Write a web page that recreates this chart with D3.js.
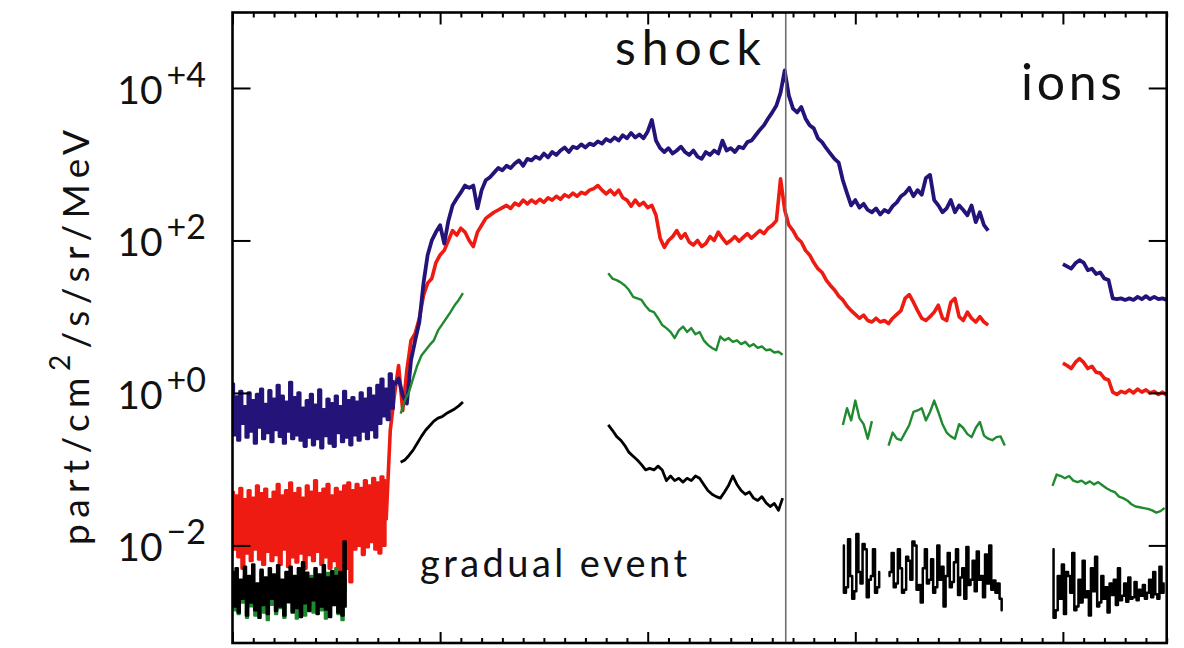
<!DOCTYPE html>
<html>
<head>
<meta charset="utf-8">
<script src="https://cdn.jsdelivr.net/npm/d3@7"></script>
<style>
  html, body { margin: 0; padding: 0; background: #fff; }
  svg { display: block; }
</style>
</head>
<body>
<svg id="chart" width="1184" height="648"></svg>
<script>
// Particle intensity time profiles (four ion channels) through a gradual SEP event.
// Time is in days from the start of the window; intensities are stored as log10
// of part/cm^2/s/sr/MeV, sampled at a fixed cadence from each segment start.

const dayRange = [0, 4.5];
const logRange = [-3.28, 4.99];
const shockDay = 2.665;

const fine = 0.01;    // cadence of the noisy background segments (days)
const coarse = 0.02;  // cadence of the event segments (days)

// ---- highest-intensity channel (blue) ----
const blueQuietStart = 0.00;
const blueQuiet = [
  0.12, -0.55, -0.05, -0.62, 0.02, -0.40, -0.18, -0.58, 0.00, -0.50,
  -0.10, -0.66, -0.02, -0.45, 0.05, -0.60, -0.15, -0.52, 0.03, -0.64,
  -0.08, -0.48, 0.10, -0.57, -0.04, -0.66, -0.12, -0.50, 0.14, -0.60,
  -0.06, -0.55, 0.00, -0.62, -0.20, -0.70, -0.10, -0.58, -0.02, -0.68,
  -0.16, -0.60, 0.04, -0.72, -0.22, -0.56, -0.08, -0.66, -0.14, -0.70,
  -0.04, -0.52, -0.18, -0.64, 0.02, -0.58, -0.10, -0.68, -0.06, -0.55,
  -0.12, -0.62, 0.00, -0.50, -0.08, -0.60, 0.06, -0.48, -0.04, -0.58,
  0.10, -0.40, 0.18, -0.30, 0.05, -0.35, 0.25, -0.20, 0.15
];
const blueEventStart = 0.78;
const blueEvent = [
  0.10, 0.19, -0.03, -0.14, 0.43, 0.69, 0.93, 1.44, 1.81, 2.00,
  2.11, 2.20, 1.96, 2.26, 2.46, 2.55, 2.63, 2.72, 2.69, 2.72,
  2.42, 2.66, 2.79, 2.83, 2.89, 2.95, 2.92, 2.98, 2.95, 3.01,
  3.05, 2.98, 3.07, 3.05, 3.10, 3.07, 3.14, 3.09, 3.16, 3.12,
  3.18, 3.22, 3.16, 3.23, 3.21, 3.26, 3.22, 3.27, 3.25, 3.30,
  3.27, 3.33, 3.30, 3.35, 3.31, 3.38, 3.34, 3.41, 3.35, 3.39,
  3.34, 3.43, 3.58, 3.31, 3.21, 3.16, 3.21, 3.14, 3.18, 3.23,
  3.16, 3.12, 3.18, 3.10, 3.07, 3.16, 3.12, 3.18, 3.14, 3.31,
  3.18, 3.21, 3.16, 3.23, 3.21, 3.29, 3.31, 3.38, 3.45, 3.51,
  3.60, 3.68, 3.77, 3.94, 4.23, 3.90, 3.73, 3.68, 3.75, 3.60,
  3.51, 3.47, 3.34, 3.29, 3.21, 3.14, 3.07, 3.02, 2.79, 2.62,
  2.46, 2.53, 2.43, 2.48, 2.40, 2.37, 2.42, 2.34, 2.40, 2.37,
  2.45, 2.50, 2.58, 2.62, 2.69, 2.58, 2.66, 2.60, 2.82, 2.86,
  2.53, 2.46, 2.37, 2.42, 2.53, 2.37, 2.46, 2.40, 2.33, 2.46,
  2.24, 2.37, 2.20, 2.13
];
const blueLateStart = 4.00;
const blueLate = [
  1.69, 1.66, 1.63, 1.70, 1.74, 1.71, 1.61, 1.63, 1.56, 1.58,
  1.50, 1.48, 1.24, 1.23, 1.24, 1.22, 1.24, 1.22, 1.26, 1.23,
  1.27, 1.23, 1.26, 1.23, 1.24, 1.22
];

// ---- second channel (red) ----
const redQuietStart = 0.00;
const redQuiet = [
  -1.30, -2.05, -1.35, -2.15, -1.25, -2.30, -1.40, -2.10, -1.28, -2.20,
  -1.38, -2.05, -1.22, -2.18, -1.32, -2.25, -1.26, -2.08, -1.40, -2.20,
  -1.30, -2.12, -1.20, -2.25, -1.35, -2.05, -1.28, -2.28, -1.18, -2.15,
  -1.32, -2.22, -1.25, -2.10, -1.38, -2.30, -1.22, -2.12, -1.30, -2.20,
  -1.15, -2.08, -1.32, -2.25, -1.26, -2.15, -1.20, -2.30, -1.35, -2.20,
  -1.25, -2.45, -1.30, -2.38, -1.22, -2.30, -1.18, -2.48, -1.28, -2.05,
  -1.20, -2.00, -1.25, -2.12, -1.15, -2.02, -1.22, -1.95, -1.12, -2.05,
  -1.18, -2.10, -1.10, -2.00, -1.15
];
const redEventStart = 0.74;
const redEvent = [
  -1.67, -0.49, -0.03, 0.36, -0.23, 0.30, 0.69, 0.78, 0.98, 1.28,
  1.44, 1.50, 1.71, 1.81, 1.87, 2.00, 2.13, 2.07, 2.16, 2.11,
  2.00, 1.92, 2.11, 2.20, 2.29, 2.33, 2.37, 2.40, 2.43, 2.46,
  2.42, 2.49, 2.46, 2.53, 2.48, 2.53, 2.49, 2.54, 2.50, 2.56,
  2.53, 2.58, 2.54, 2.60, 2.57, 2.62, 2.58, 2.63, 2.61, 2.66,
  2.68, 2.72, 2.66, 2.61, 2.66, 2.60, 2.66, 2.56, 2.53, 2.45,
  2.53, 2.46, 2.50, 2.43, 2.46, 2.33, 2.03, 1.91, 2.00, 2.05,
  2.13, 2.03, 2.09, 1.98, 1.94, 2.00, 1.92, 1.96, 2.05, 2.00,
  2.11, 2.03, 1.96, 2.00, 2.05, 1.99, 2.04, 2.09, 2.03, 2.08,
  2.13, 2.09, 2.16, 2.20, 2.26, 2.81, 2.40, 2.20, 2.13, 2.03,
  1.98, 1.87, 1.81, 1.71, 1.63, 1.58, 1.48, 1.41, 1.35, 1.27,
  1.22, 1.14, 1.08, 1.03, 0.98, 1.02, 0.95, 0.93, 0.98, 0.93,
  0.95, 0.91, 0.98, 1.03, 1.08, 1.24, 1.29, 1.19, 1.08, 0.98,
  0.95, 1.00, 1.06, 1.15, 0.98, 0.95, 1.19, 1.24, 1.00, 0.95,
  1.06, 0.98, 0.93, 1.00, 0.93, 0.89
];
const redLateStart = 4.00;
const redLate = [
  0.39, 0.36, 0.32, 0.40, 0.45, 0.40, 0.32, 0.35, 0.27, 0.26,
  0.19, 0.17, 0.01, -0.02, 0.02, 0.00, 0.04, 0.00, 0.05, 0.01,
  0.04, 0.00, 0.02, -0.02, 0.01, -0.03
];

// ---- third channel (green) ----
const greenQuietStart = 0.00;
const greenQuiet = [
  -2.60, -2.85, -2.45, -2.90, -2.55, -2.75, -2.40, -2.95, -2.62, -2.80,
  -2.50, -2.92, -2.58, -2.70, -2.35, -2.88, -2.65, -2.98, -2.48, -2.78,
  -2.55, -2.90, -2.42, -2.82, -2.60, -2.95, -2.52, -2.75, -2.38, -2.86,
  -2.58, -2.96, -2.50, -2.80, -2.45, -2.92, -2.62, -2.78, -2.40, -2.88,
  -2.55, -2.70, -2.42, -2.85, -2.50, -2.96, -2.36, -2.80, -2.48, -2.72,
  -2.30, -2.90, -2.40, -2.98, -2.45, -2.60
];
const greenRiseStart = 0.81;
const greenRise = [
  -0.27, -0.10, 0.01, 0.19, 0.36, 0.49, 0.56, 0.63, 0.69, 0.82,
  0.90, 0.98, 1.06, 1.15, 1.22, 1.31
];
const greenDecayStart = 1.81;
const greenDecay = [
  1.57, 1.50, 1.48, 1.45, 1.41, 1.35, 1.26, 1.24, 1.22, 1.14,
  1.08, 1.06, 0.98, 0.89, 0.85, 0.80, 0.72, 0.82, 0.87, 0.80,
  0.85, 0.77, 0.80, 0.69, 0.63, 0.59, 0.56, 0.74, 0.69, 0.72,
  0.67, 0.69, 0.64, 0.67, 0.61, 0.64, 0.59, 0.61, 0.56, 0.57,
  0.53, 0.54, 0.50
];
const greenPost1Start = 2.94;
const greenPost1 = [-0.42, -0.20, -0.36, -0.10, -0.33, -0.41, -0.60, -0.37];
const greenPost2Start = 3.16;
const greenPost2 = [
  -0.69, -0.52, -0.60, -0.62, -0.52, -0.42, -0.25, -0.23, -0.20, -0.36,
  -0.25, -0.10, -0.25, -0.41, -0.52, -0.57, -0.60, -0.41, -0.46, -0.54,
  -0.58, -0.46, -0.38, -0.56, -0.60, -0.62, -0.58, -0.57, -0.69
];
const greenLateStart = 3.95;
const greenLate = [
  -1.22, -1.07, -1.09, -1.12, -1.09, -1.15, -1.17, -1.15, -1.19, -1.16,
  -1.20, -1.17, -1.21, -1.25, -1.28, -1.30, -1.36, -1.38, -1.41, -1.46,
  -1.49, -1.50, -1.51, -1.52, -1.54, -1.57, -1.55, -1.51
];

// ---- lowest channel (black) ----
const blackQuietStart = 0.00;
const blackQuiet = [
  -2.35, -2.80, -2.30, -2.88, -2.45, -2.70, -2.28, -2.92, -2.40, -2.75,
  -2.25, -2.85, -2.50, -2.95, -2.32, -2.78, -2.42, -2.90, -2.30, -2.70,
  -2.38, -2.86, -2.26, -2.80, -2.45, -2.92, -2.35, -2.74, -2.28, -2.88,
  -2.40, -2.82, -2.30, -2.94, -2.22, -2.76, -2.36, -2.86, -2.44, -2.72,
  -2.30, -2.90, -2.38, -2.80, -2.26, -2.84, -2.42, -2.94, -2.34, -2.78,
  -2.40, -2.88, -2.35, -2.92, -1.95, -2.80
];
const blackRiseStart = 0.81;
const blackRise = [
  -0.91, -0.88, -0.82, -0.75, -0.66, -0.57, -0.49, -0.43, -0.37, -0.33,
  -0.31, -0.27, -0.24, -0.21, -0.17, -0.12
];
const blackDecayStart = 1.81;
const blackDecay = [
  -0.42, -0.49, -0.57, -0.62, -0.69, -0.78, -0.83, -0.88, -0.94, -1.01,
  -0.99, -1.01, -0.96, -1.01, -1.15, -1.09, -1.15, -1.12, -1.17, -1.12,
  -1.15, -1.09, -1.12, -1.20, -1.28, -1.33, -1.36, -1.38, -1.30, -1.21,
  -1.09, -1.20, -1.28, -1.33, -1.30, -1.38, -1.41, -1.36, -1.44, -1.49,
  -1.45, -1.54, -1.38
];
const blackPost1Start = 2.94;
const blackPost1 = [
  -2.00, -2.62, -2.55, -1.92, -2.40, -2.70, -2.60, -1.85, -2.35, -2.50,
  -1.98, -2.05, -2.68, -2.45, -2.40, -2.05, -2.62, -2.55, -2.35
];
const blackPost2Start = 3.16;
const blackPost2 = [
  -2.40, -2.35, -2.10, -2.55, -2.50, -2.05, -2.30, -2.62, -2.58, -2.15,
  -2.20, -2.45, -1.95, -2.00, -2.58, -2.52, -2.75, -2.30, -2.05, -2.50,
  -2.45, -2.18, -2.62, -2.55, -2.00, -2.45, -2.28, -2.80, -2.40, -2.10,
  -2.55, -2.48, -2.22, -2.05, -2.65, -2.42, -2.30, -2.70, -2.02, -2.52,
  -2.45, -2.20, -2.60, -2.08, -2.45, -2.40, -2.68, -2.12, -2.50, -2.00,
  -2.58, -2.46, -2.62, -2.50, -2.70, -2.85
];
const blackLateStart = 3.95;
const blackLate = [
  -2.05, -2.95, -2.85, -2.40, -2.70, -2.25, -2.90, -2.35, -2.40, -2.62,
  -2.10, -2.85, -2.80, -2.45, -2.75, -2.20, -2.68, -2.60, -2.92, -2.30,
  -2.60, -2.15, -2.80, -2.75, -2.40, -2.70, -2.55, -2.88, -2.50, -2.65,
  -2.45, -2.78, -2.30, -2.72, -2.66, -2.50, -2.74, -2.42, -2.70, -2.68,
  -2.48, -2.72, -2.58, -2.66, -2.52, -2.70, -2.62, -2.45, -2.68, -2.35,
  -2.64, -2.70, -2.28, -2.62, -2.50
];

// Axis ticks
const majorDays = [0, 1, 2, 3, 4];
const minorDays = d3.range(0, 4.5001, 0.1);
const yTickExps = [4, 2, 0, -2];
const yTickLabels = ["+4", "+2", "+0", "\u22122"];

// ---- drawing ----
const fontFamily = "Lato, 'Open Sans', 'DejaVu Sans', sans-serif";
const channelStyle = {
  red:   { color: "#ee1b12", width: 3.6 },
  blue:  { color: "#241479", width: 3.8 },
  green: { color: "#1f8a2f", width: 2.4 },
  black: { color: "#000000", width: 2.8 }
};
const noiseWidth = { red: 3.2, blue: 3.2, green: 2.4, black: 2.5 };

// draw order: red under blue; green background noise under black noise
const segments = [
  ["red", redQuietStart, fine, redQuiet],
  ["red", redEventStart, coarse, redEvent],
  ["red", redLateStart, coarse, redLate],
  ["blue", blueQuietStart, fine, blueQuiet],
  ["blue", blueEventStart, coarse, blueEvent],
  ["blue", blueLateStart, coarse, blueLate],
  ["green", greenQuietStart, fine, greenQuiet],
  ["black", blackQuietStart, fine, blackQuiet],
  ["green", greenRiseStart, coarse, greenRise],
  ["green", greenDecayStart, coarse, greenDecay],
  ["green", greenPost1Start, coarse, greenPost1],
  ["green", greenPost2Start, coarse, greenPost2],
  ["green", greenLateStart, coarse, greenLate],
  ["black", blackRiseStart, coarse, blackRise],
  ["black", blackDecayStart, coarse, blackDecay],
  ["black", blackPost1Start, fine, blackPost1],
  ["black", blackPost2Start, fine, blackPost2],
  ["black", blackLateStart, fine, blackLate]
];

const plot = { left: 232.5, right: 1166.7, top: 12.5, bottom: 643 };

const x = d3.scaleLinear().domain(dayRange).range([plot.left, plot.right]);
const y = d3.scaleLog()
  .domain([Math.pow(10, logRange[0]), Math.pow(10, logRange[1])])
  .range([plot.bottom, plot.top]);

const svg = d3.select("#chart");

svg.append("defs").append("clipPath").attr("id", "plot-clip")
  .append("rect")
  .attr("x", plot.left).attr("y", plot.top)
  .attr("width", plot.right - plot.left).attr("height", plot.bottom - plot.top);

// noisy background samples are drawn as histogram steps, event samples as a polyline
const stepLine = d3.line().x(d => x(d[0])).y(d => y(d[1])).curve(d3.curveStep);
const polyLine = d3.line().x(d => x(d[0])).y(d => y(d[1])).curve(d3.curveLinear);

const dataLayer = svg.append("g").attr("clip-path", "url(#plot-clip)");

segments.forEach(([channel, start, step, values]) => {
  const pts = values.map((v, i) => [start + i * step, Math.pow(10, v)]);
  const isNoise = step === fine;
  dataLayer.append("path")
    .datum(pts)
    .attr("d", isNoise ? stepLine : polyLine)
    .attr("fill", "none")
    .attr("stroke", channelStyle[channel].color)
    .attr("stroke-width", isNoise ? noiseWidth[channel] : channelStyle[channel].width)
    .attr("stroke-linejoin", "round");
});

// shock passage marker
dataLayer.append("line")
  .attr("x1", x(shockDay)).attr("x2", x(shockDay))
  .attr("y1", plot.top).attr("y2", plot.bottom)
  .attr("stroke", "#6e6e6e").attr("stroke-width", 1.6);

// ---- axes: inward ticks on all four sides ----
function styleAxis(g) {
  g.select(".domain").remove();
  g.selectAll(".tick line").attr("stroke", "#000").attr("stroke-width", 2);
  g.selectAll(".tick text").remove();
}

const minorOnly = minorDays.filter(d => !majorDays.some(m => Math.abs(m - d) < 1e-6));

svg.append("g").attr("transform", `translate(0,${plot.top})`)
  .call(d3.axisBottom(x).tickValues(minorOnly).tickSize(5)).call(styleAxis);
svg.append("g").attr("transform", `translate(0,${plot.top})`)
  .call(d3.axisBottom(x).tickValues(majorDays).tickSize(12)).call(styleAxis);
svg.append("g").attr("transform", `translate(0,${plot.bottom})`)
  .call(d3.axisTop(x).tickValues(minorOnly).tickSize(5)).call(styleAxis);
svg.append("g").attr("transform", `translate(0,${plot.bottom})`)
  .call(d3.axisTop(x).tickValues(majorDays).tickSize(11)).call(styleAxis);

const yTickVals = yTickExps.map(e => Math.pow(10, e));
svg.append("g").attr("transform", `translate(${plot.left},0)`)
  .call(d3.axisRight(y).tickValues(yTickVals).tickSize(18)).call(styleAxis);
svg.append("g").attr("transform", `translate(${plot.right},0)`)
  .call(d3.axisLeft(y).tickValues(yTickVals).tickSize(18)).call(styleAxis);

// frame
svg.append("rect")
  .attr("x", plot.left).attr("y", plot.top)
  .attr("width", plot.right - plot.left).attr("height", plot.bottom - plot.top)
  .attr("fill", "none").attr("stroke", "#000").attr("stroke-width", 2.6);

// ---- labels ----
const labels = svg.append("g")
  .attr("font-family", fontFamily)
  .attr("font-weight", 400)
  .attr("fill", "#111");

yTickExps.forEach((e, i) => {
  const t = labels.append("text")
    .attr("x", 206)
    .attr("y", y(Math.pow(10, e)) + 16)
    .attr("text-anchor", "end")
    .attr("font-size", 39);
  t.append("tspan").text("10");
  t.append("tspan").attr("dx", 4).attr("dy", -17).attr("font-size", 34).text(yTickLabels[i]);
});

const yTitle = labels.append("text")
  .attr("transform", "translate(89,337.5) rotate(-90)")
  .attr("text-anchor", "middle")
  .attr("font-size", 37)
  .attr("textLength", 415)
  .attr("lengthAdjust", "spacing");
yTitle.append("tspan").text("part/cm");
yTitle.append("tspan").attr("dy", -19).attr("font-size", 28).text("2");
yTitle.append("tspan").attr("dy", 19).text("/s/sr/MeV");

labels.append("text")
  .attr("x", 615).attr("y", 65)
  .attr("font-size", 48)
  .attr("textLength", 146).attr("lengthAdjust", "spacing")
  .text("shock");

labels.append("text")
  .attr("x", 1021).attr("y", 100)
  .attr("font-size", 50)
  .attr("textLength", 101).attr("lengthAdjust", "spacing")
  .text("ions");

labels.append("text")
  .attr("x", 420).attr("y", 577)
  .attr("font-size", 38)
  .attr("textLength", 267).attr("lengthAdjust", "spacing")
  .text("gradual event");
</script>
</body>
</html>
